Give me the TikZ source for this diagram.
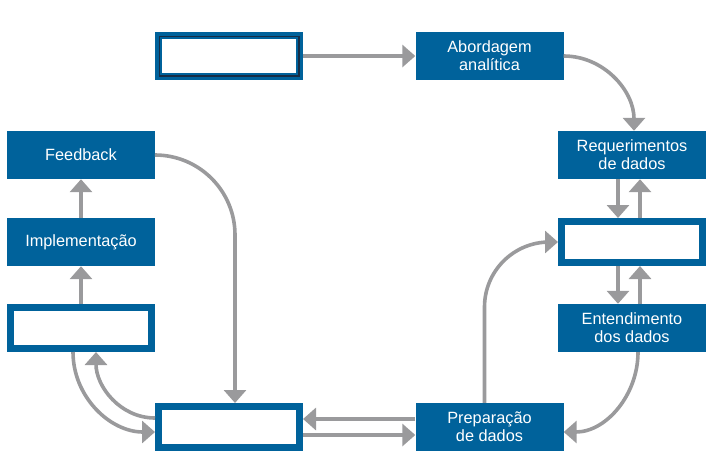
\documentclass[tikz,border=0pt]{standalone}
\usepackage{fontspec}
\setmainfont{Liberation Sans}
\usetikzlibrary{arrows.meta,calc}
\definecolor{boxblue}{RGB}{0,98,155}
\definecolor{linegray}{RGB}{154,154,156}
\definecolor{navy}{RGB}{22,45,70}
\begin{document}
\begin{tikzpicture}[
			x=1pt, y=1pt,
			stage/.style={rectangle, fill=boxblue, text=white, minimum width=148pt, minimum height=48pt, inner sep=0pt, align=center, font=\fontsize{16.3}{18}\selectfont},
			blank/.style={rectangle, draw=boxblue, line width=7pt, fill=white, minimum width=141pt, minimum height=41pt, inner sep=0pt},
			flow/.style={draw=linegray, line width=3.6pt, -{Triangle[width=22pt,length=13pt]}}
		]
		\useasboundingbox (0,0) rectangle (725,-469);
		\node[blank] (topblank) at (229,-56) {};
		\node[stage] (abord) at (489.5,-56) {Abordagem\\analítica};
		\node[stage] (req) at (632,-155) {Requerimentos\\de dados};
		\node[blank] (midblank) at (632,-242) {};
		\node[stage] (entend) at (632,-328) {Entendimento\\dos dados};
		\node[stage] (prep) at (489.5,-427) {Preparação\\de dados};
		\node[blank] (botblank) at (229,-427) {};
		\node[blank] (leftblank) at (81,-328) {};
		\node[stage] (impl) at (81,-242) {Implementação};
		\node[stage] (feed) at (81,-155) {Feedback};
		\draw[navy, line width=1.2pt] ($(topblank.south west)+(4.1,4.1)$) rectangle ($(topblank.north east)+(-4.1,-4.1)$);

		\draw[flow] (topblank.east) -- (abord.west);
		\draw[flow] (abord.east) to[out=0,in=90] ([xshift=2pt]req.north);
		\draw[flow] ([xshift=-14pt]req.south) -- ([xshift=-14pt]midblank.north);
		\draw[flow] ([xshift=8pt]midblank.north) -- ([xshift=8pt]req.south);
		\draw[flow] ([xshift=-14pt]midblank.south) -- ([xshift=-14pt]entend.north);
		\draw[flow] ([xshift=8pt]entend.north) -- ([xshift=8pt]midblank.south);
		\draw[flow] ([xshift=6pt]entend.south) to[out=-90,in=0] ([yshift=-5pt]prep.east);
		\draw[flow, rounded corners=65pt] ([xshift=-5pt]prep.north) |- (midblank.west);
		\draw[flow] ([yshift=8pt]prep.west) -- ([yshift=8pt]botblank.east);
		\draw[flow] ([yshift=-8pt]botblank.east) -- ([yshift=-8pt]prep.west);
		\draw[flow, rounded corners=80pt] (feed.east) -| ([xshift=6pt]botblank.north);
		\draw[flow] ([xshift=-8pt]leftblank.south) to[out=-90,in=180] ([yshift=-5pt]botblank.west);
		\draw[flow] ([yshift=9pt]botblank.west) to[out=180,in=-90] ([xshift=15pt]leftblank.south);
		\draw[flow] (leftblank.north) -- (impl.south);
		\draw[flow] (impl.north) -- (feed.south);
	\end{tikzpicture}
\end{document}
